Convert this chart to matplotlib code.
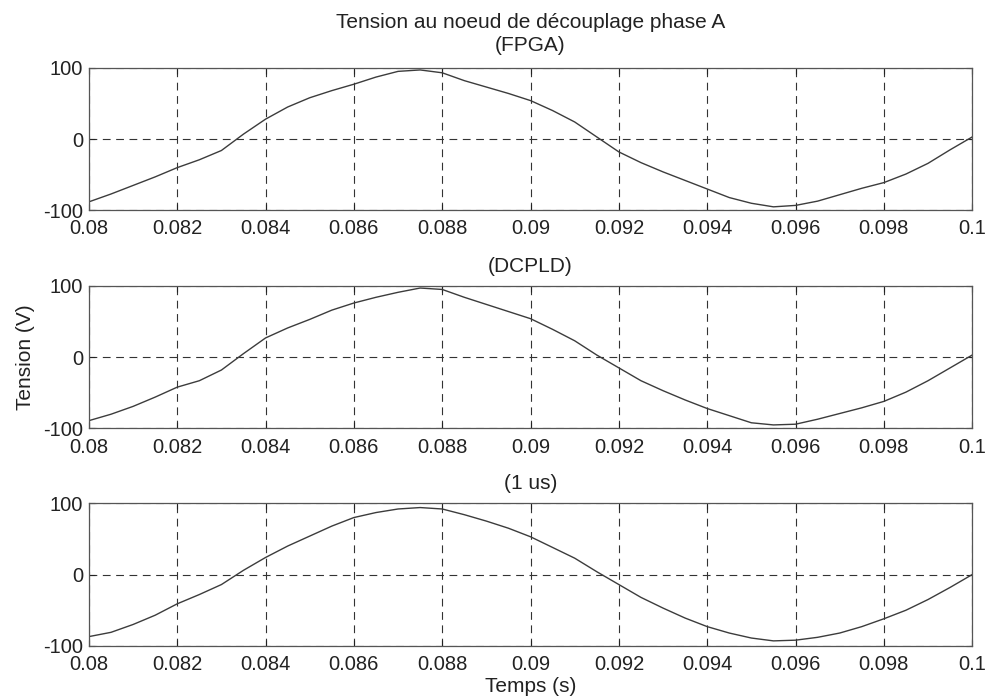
import matplotlib
matplotlib.use("Agg")
import matplotlib.pyplot as plt

plt.rcParams['font.family'] = ['Liberation Sans', 'DejaVu Sans']

# Time samples (s), shared by the three traces
t = [0.0800, 0.0805, 0.0810, 0.0815, 0.0820, 0.0825, 0.0830, 0.0835, 0.0840, 0.0845,
     0.0850, 0.0855, 0.0860, 0.0865, 0.0870, 0.0875, 0.0880, 0.0885, 0.0890, 0.0895,
     0.0900, 0.0905, 0.0910, 0.0915, 0.0920, 0.0925, 0.0930, 0.0935, 0.0940, 0.0945,
     0.0950, 0.0955, 0.0960, 0.0965, 0.0970, 0.0975, 0.0980, 0.0985, 0.0990, 0.0995,
     0.1000]

# Voltage (V)
v_fpga = [-88, -77, -65, -53, -40, -29, -16, 7, 28, 45,
          58, 68, 77, 87, 95, 97, 93, 82, 73, 64,
          54, 40, 24, 3, -18, -33, -46, -58, -70, -82,
          -90, -95, -93, -87, -78, -69, -61, -49, -34, -15,
          3]
v_dcpld = [-89, -80, -69, -56, -42, -33, -18, 5, 27, 41,
           53, 66, 76, 84, 91, 97, 95, 84, 74, 64,
           54, 39, 23, 3, -15, -33, -47, -60, -72, -82,
           -92, -95, -94, -87, -79, -71, -62, -49, -33, -15,
           3]
v_1us = [-87, -81, -70, -57, -41, -28, -14, 6, 24, 40,
         54, 68, 80, 87, 92, 94, 92, 84, 75, 65,
         53, 38, 23, 4, -14, -32, -47, -61, -73, -82,
         -89, -93, -92, -88, -82, -73, -62, -50, -35, -18,
         0]

titles = ["Tension au noeud de découplage phase A\n(FPGA)", "(DCPLD)", "(1 us)"]
x_ticks = [0.08, 0.082, 0.084, 0.086, 0.088, 0.09, 0.092, 0.094, 0.096, 0.098, 0.1]
x_ticklabels = ["0.08", "0.082", "0.084", "0.086", "0.088", "0.09", "0.092", "0.094",
                "0.096", "0.098", "0.1"]
y_ticks = [-100, 0, 100]
y_ticklabels = ["-100", "0", "100"]

series = [v_fpga, v_dcpld, v_1us]

fig = plt.figure(figsize=(9.88, 6.99), dpi=100)
left, width = 0.090, 0.894
bottoms = [0.699, 0.387, 0.076]
height = 0.204
title_pads = [12, 10, 10]

txt = '#222222'
axes = []
for i, v in enumerate(series):
    ax = fig.add_axes([left, bottoms[i], width, height])
    ax.plot(t, v, color='#3c3c3c', lw=1.0)
    ax.set_xlim(0.08, 0.1)
    ax.set_ylim(-100, 100)
    ax.set_xticks(x_ticks)
    ax.set_xticklabels(x_ticklabels)
    ax.set_yticks(y_ticks)
    ax.set_yticklabels(y_ticklabels)
    ax.tick_params(direction='in', top=True, right=True, labelsize=14.5,
                   length=4, width=0.8, colors=txt, pad=6.5)
    ax.tick_params(axis='y', pad=4)
    ax.grid(True, color='#333333', linestyle=(0, (7, 5)), linewidth=0.8)
    for s in ax.spines.values():
        s.set_color('#555555')
        s.set_linewidth(0.9)
    ax.set_title(titles[i], fontsize=15, color=txt, pad=title_pads[i], linespacing=1.3)
    axes.append(ax)

axes[1].set_ylabel("Tension (V)", fontsize=15, color=txt, labelpad=6)
axes[2].set_xlabel("Temps (s)", fontsize=15, color=txt, labelpad=2)

fig.savefig("out.png", dpi=100)
